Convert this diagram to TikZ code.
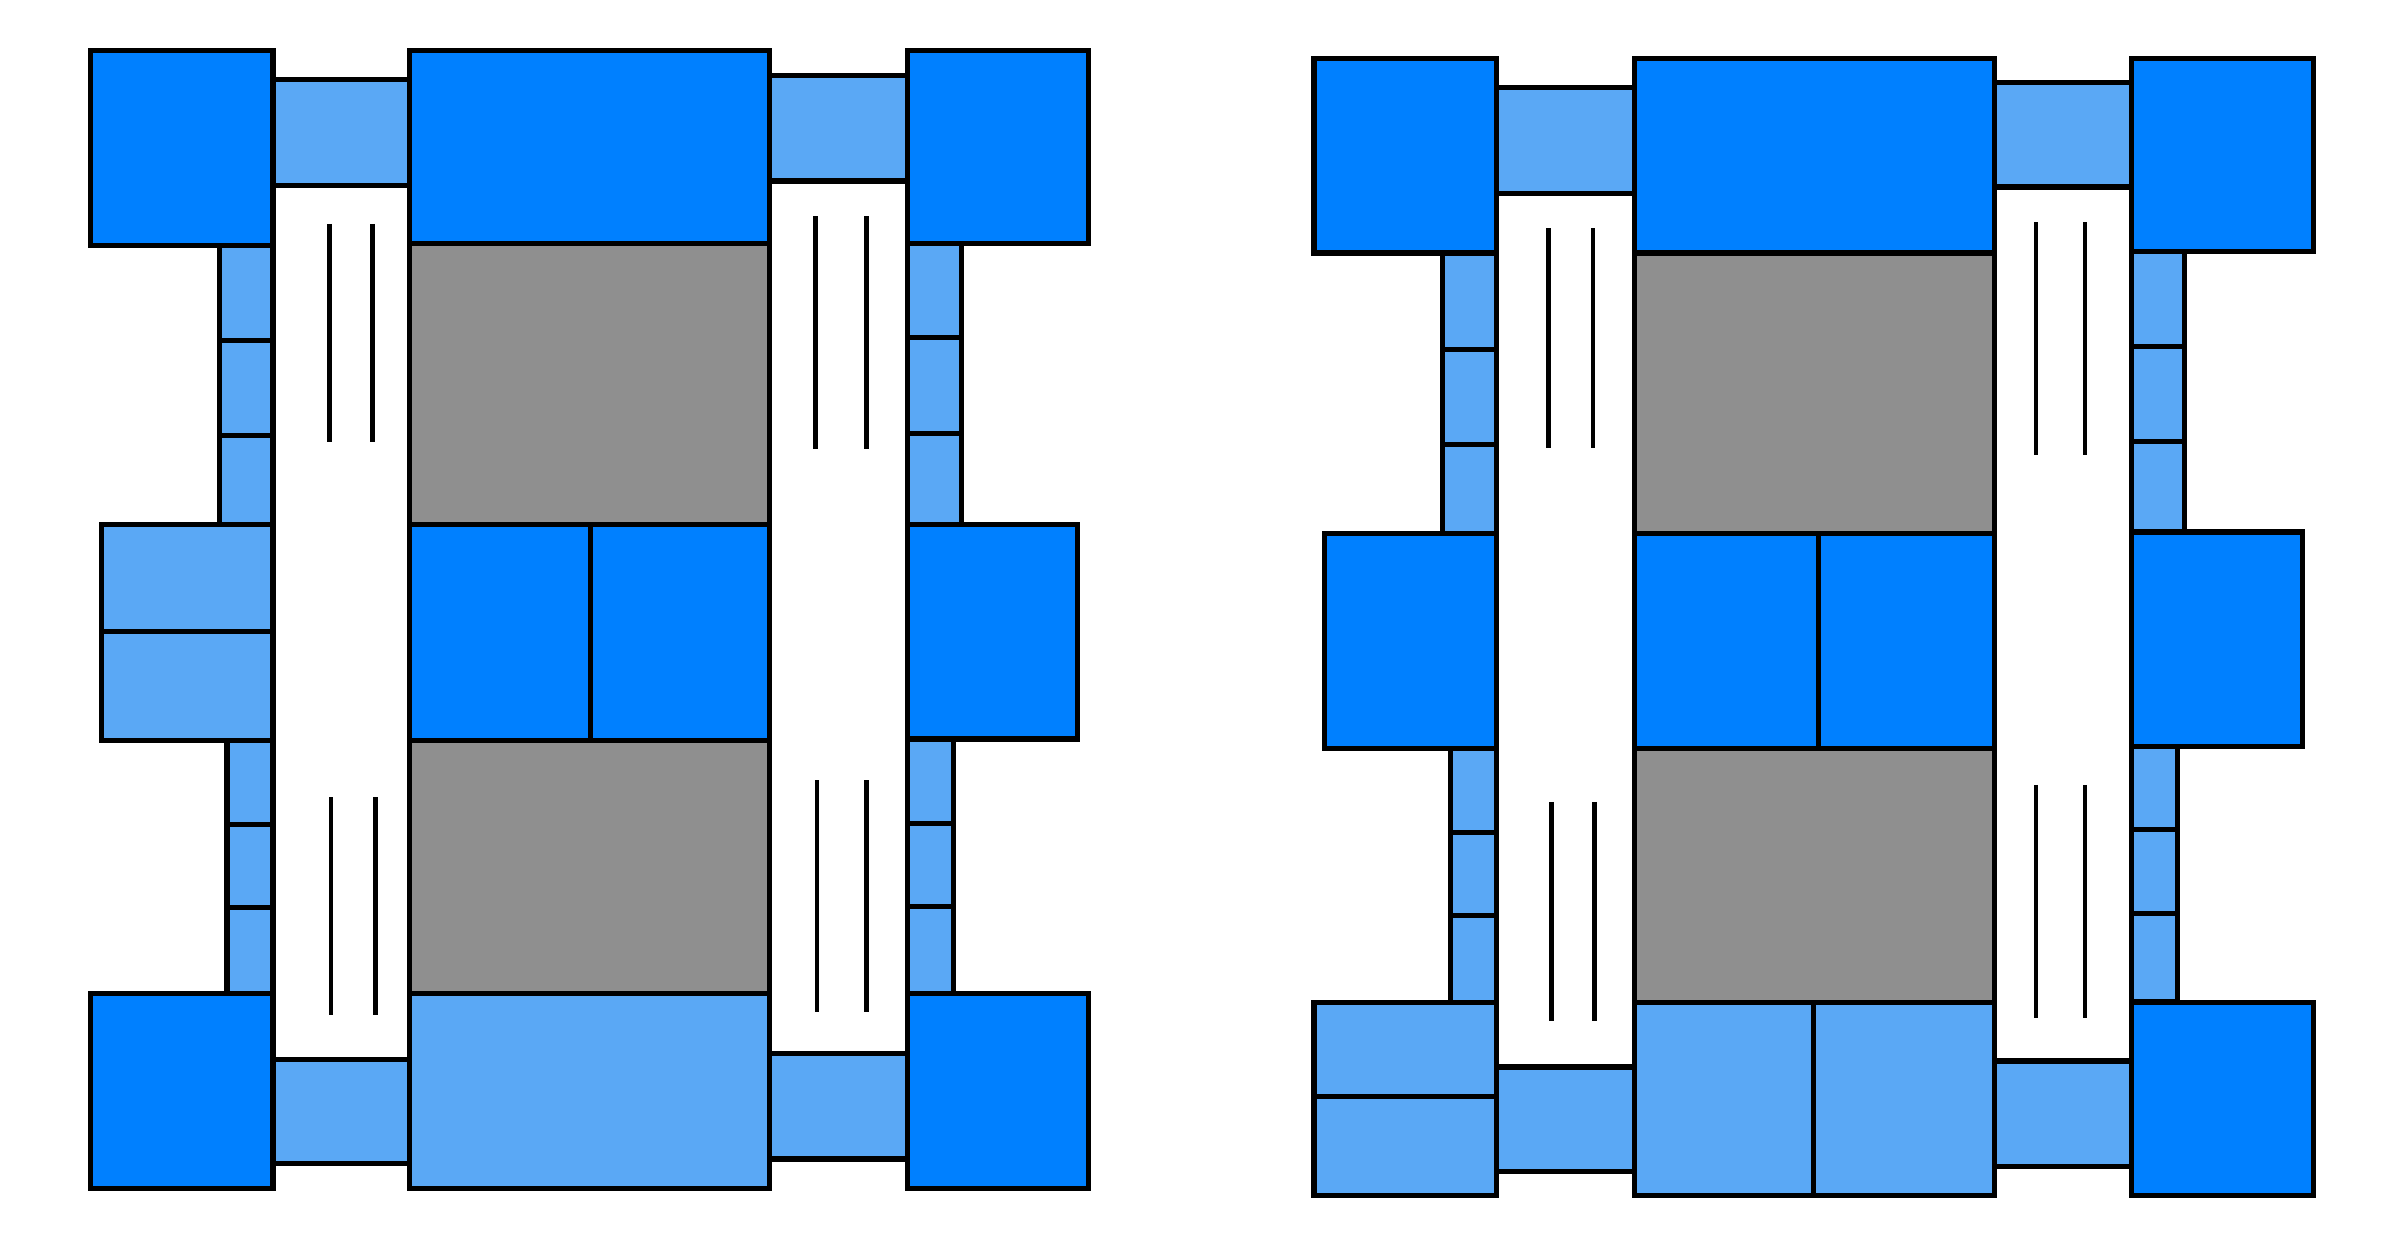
\documentclass[tikz,border=0pt]{standalone}
\definecolor{blockdark}{RGB}{0,128,255}
\definecolor{blocklight}{RGB}{90,168,245}
\definecolor{blockgrey}{RGB}{143,143,143}
\begin{document}
\begin{tikzpicture}[x=1pt,y=-1pt,
  dark/.style={fill=blockdark,draw=black,line width=3.4pt},
  light/.style={fill=blocklight,draw=black,line width=3.4pt},
  grey/.style={fill=blockgrey,draw=black,line width=3.4pt},
  well/.style={fill=white,draw=black,line width=3.4pt},
  rod/.style={draw=black,line width=3pt}]
\useasboundingbox (0,0) rectangle (1568,814);
% ===== left layout =====
% top and bottom connectors
\draw[light] (178,52) rectangle (267,121);
\draw[light] (502,49) rectangle (592,118);
\draw[light] (178,691) rectangle (267,759);
\draw[light] (502,687) rectangle (592,756);
% white wells
\draw[well] (178,121) rectangle (267,691);
\draw[well] (502,118) rectangle (592,687);
% corner blocks
\draw[dark] (59,33) rectangle (178,160);
\draw[dark] (592,33) rectangle (710,159);
\draw[dark] (59,648) rectangle (178,775);
\draw[dark] (592,648) rectangle (710,775);
% centre stack
\draw[dark] (267,33) rectangle (502,159);
\draw[grey] (267,159) rectangle (502,342);
\draw[dark] (267,342) rectangle (385,483);
\draw[dark] (385,342) rectangle (502,483);
\draw[grey] (267,483) rectangle (502,648);
\draw[light] (267,648) rectangle (502,775);
% side strips
\foreach \a/\b in {160/222,222/284,284/342} \draw[light] (143,\a) rectangle (178,\b);
\draw[light] (66,342) rectangle (178,412);
\draw[light] (66,412) rectangle (178,483);
\foreach \a/\b in {483/538,538/592,592/648} \draw[light] (148,\a) rectangle (178,\b);
\foreach \a/\b in {159/220,220/283,283/342} \draw[light] (592,\a) rectangle (627,\b);
\draw[dark] (592,342) rectangle (703,482);
\foreach \a/\b in {482/537,537/591,591/648} \draw[light] (592,\a) rectangle (622,\b);
% rods in the wells
\draw[rod] (215,146) -- (215,288);
\draw[rod] (243,146) -- (243,288);
\draw[rod] (216,520) -- (216,662);
\draw[rod] (245,520) -- (245,662);
\draw[rod] (532,141) -- (532,293);
\draw[rod] (565,141) -- (565,293);
\draw[rod] (533,509) -- (533,660);
\draw[rod] (565,509) -- (565,660);
% ===== right layout =====
% top and bottom connectors
\draw[light] (976,57) rectangle (1066,126);
\draw[light] (1301,54) rectangle (1390,122);
\draw[light] (976,696) rectangle (1066,764);
\draw[light] (1301,692) rectangle (1390,761);
% white wells
\draw[well] (976,126) rectangle (1066,696);
\draw[well] (1301,122) rectangle (1390,692);
% corner blocks
\draw[dark] (857,38) rectangle (976,165);
\draw[dark] (1390,38) rectangle (1509,164);
\draw[light] (857,654) rectangle (976,715);
\draw[light] (857,715) rectangle (976,780);
\draw[dark] (1390,654) rectangle (1509,780);
% centre stack
\draw[dark] (1066,38) rectangle (1301,165);
\draw[grey] (1066,165) rectangle (1301,348);
\draw[dark] (1066,348) rectangle (1186,488);
\draw[dark] (1186,348) rectangle (1301,488);
\draw[grey] (1066,488) rectangle (1301,654);
\draw[light] (1066,654) rectangle (1183,780);
\draw[light] (1183,654) rectangle (1301,780);
% side strips
\foreach \a/\b in {165/228,228/290,290/348} \draw[light] (941,\a) rectangle (976,\b);
\draw[dark] (864,348) rectangle (976,488);
\foreach \a/\b in {488/543,543/597,597/654} \draw[light] (946,\a) rectangle (976,\b);
\foreach \a/\b in {164/226,226/288,288/347} \draw[light] (1390,\a) rectangle (1425,\b);
\draw[dark] (1390,347) rectangle (1502,487);
\foreach \a/\b in {487/541,541/596,596/653} \draw[light] (1390,\a) rectangle (1420,\b);
% rods in the wells
\draw[rod] (1010,149) -- (1010,292);
\draw[rod] (1039,149) -- (1039,292);
\draw[rod] (1012,523) -- (1012,666);
\draw[rod] (1040,523) -- (1040,666);
\draw[rod] (1328,145) -- (1328,297);
\draw[rod] (1360,145) -- (1360,297);
\draw[rod] (1328,512) -- (1328,664);
\draw[rod] (1360,512) -- (1360,664);
\end{tikzpicture}
\end{document}
